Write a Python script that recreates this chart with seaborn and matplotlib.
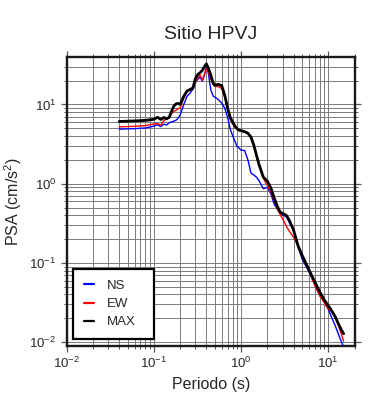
import matplotlib
matplotlib.use("Agg")
import matplotlib.pyplot as plt
import seaborn as sns
import pandas as pd
from matplotlib.ticker import LogLocator, NullFormatter

# ---- data ----
periods = [0.04, 0.06, 0.08, 0.10, 0.11, 0.12, 0.13, 0.14, 0.15, 0.16, 0.17, 0.18,
           0.19, 0.20, 0.22, 0.24, 0.26, 0.28, 0.30, 0.32, 0.34, 0.36, 0.38, 0.40,
           0.42, 0.45, 0.48, 0.50, 0.55, 0.60, 0.65, 0.70, 0.75, 0.80, 0.85, 0.90,
           0.95, 1.0, 1.1, 1.2, 1.3, 1.4, 1.5, 1.6, 1.8, 2.0, 2.2, 2.4, 2.6, 2.8,
           3.0, 3.3, 3.6, 4.0, 4.5, 5.0, 6.0, 7.0, 8.0, 9.0, 10.0, 11.0, 12.0,
           13.0, 14.0, 15.0]

ns = [4.89, 4.95, 5.05, 5.33, 5.56, 5.25, 5.65, 5.49, 5.89, 6.04, 6.16, 6.34,
      6.72, 7.33, 9.95, 12.7, 13.9, 15.6, 19.1, 20.9, 22.0, 19.7, 23.4, 30.0,
      25.5, 15.2, 12.7, 12.4, 11.5, 10.4, 8.98, 6.9, 4.89, 4.04, 3.44, 2.94,
      2.81, 2.65, 2.62, 1.98, 1.36, 1.29, 1.21, 1.10, 0.864, 0.90, 0.74, 0.55,
      0.48, 0.43, 0.40, 0.385, 0.32, 0.255, 0.16, 0.113, 0.0775, 0.054, 0.0385,
      0.033, 0.026, 0.0202, 0.0162, 0.0128, 0.0104, 0.0087]

ew = [5.22, 5.30, 5.41, 5.68, 5.73, 5.49, 6.25, 6.62, 6.72, 7.7, 8.2, 8.47,
      8.85, 8.98, 12.0, 14.3, 15.8, 16.5, 19.1, 22.0, 23.4, 20.2, 24.1, 28.5,
      25.5, 20.9, 17.8, 17.0, 16.8, 15.9, 12.4, 8.98, 6.53, 5.65, 5.18, 4.89,
      4.68, 4.61, 4.47, 4.28, 3.81, 3.03, 2.23, 1.72, 1.18, 0.94, 0.78, 0.61,
      0.48, 0.41, 0.36, 0.29, 0.25, 0.21, 0.165, 0.123, 0.081, 0.052, 0.0385,
      0.0315, 0.026, 0.0245, 0.0215, 0.0166, 0.0131, 0.0103]

mx = [6.1, 6.2, 6.3, 6.5, 6.9, 6.47, 6.85, 6.6, 6.9, 8.3, 9.6, 10.2,
      10.3, 10.0, 12.7, 14.8, 15.4, 16.0, 21.5, 24.0, 25.2, 27.1, 30.0, 32.6,
      29.0, 23.4, 18.4, 17.5, 18.0, 17.3, 13.1, 8.98, 6.9, 6.0, 5.35, 4.95,
      4.74, 4.68, 4.54, 4.34, 3.87, 3.07, 2.30, 1.77, 1.21, 1.08, 0.88, 0.66,
      0.52, 0.44, 0.42, 0.40, 0.34, 0.26, 0.165, 0.126, 0.082, 0.058, 0.043,
      0.034, 0.029, 0.0247, 0.021, 0.0173, 0.0146, 0.0128]

series_names = ["NS", "EW", "MAX"]
series_colors = ["#0000ff", "#ff0000", "#000000"]
series_widths = [1.0, 1.0, 2.0]

title = "Sitio HPVJ"
xlabel = "Periodo (s)"
ylabel = "PSA (cm/s$^2$)"

# ---- style ----
sns.set_style("ticks")
plt.rcParams["font.family"] = ["Liberation Sans", "DejaVu Sans"]
plt.rcParams["mathtext.fontset"] = "custom"
plt.rcParams["mathtext.rm"] = "Liberation Sans"
plt.rcParams["mathtext.it"] = "Liberation Sans:italic"

fig = plt.figure(figsize=(3.9, 4.0), dpi=100)
ax = fig.add_axes([0.171, 0.136, 0.739, 0.721])

for name, vals, col, lw in zip(series_names, [ns, ew, mx], series_colors, series_widths):
    df = pd.DataFrame({"Periodo": periods, "PSA": vals})
    sns.lineplot(data=df, x="Periodo", y="PSA", ax=ax, color=col, linewidth=lw,
                 label=name, sort=True, zorder=3)

ax.set_xscale("log")
ax.set_yscale("log")
ax.set_xlim(0.01, 20.2)
ax.set_ylim(0.00906, 39.5)

ax.xaxis.set_major_locator(LogLocator(base=10, numticks=10))
ax.yaxis.set_major_locator(LogLocator(base=10, numticks=10))
ax.xaxis.set_minor_locator(LogLocator(base=10, subs=range(2, 10), numticks=20))
ax.yaxis.set_minor_locator(LogLocator(base=10, subs=range(2, 10), numticks=20))
ax.xaxis.set_minor_formatter(NullFormatter())
ax.yaxis.set_minor_formatter(NullFormatter())

ax.grid(True, which="both", color="#7a7a7a", linewidth=0.7, zorder=0)
ax.set_axisbelow(True)

for sp in ax.spines.values():
    sp.set_visible(True)
    sp.set_linewidth(1.7)
    sp.set_color("#1a1a1a")

ax.tick_params(which="both", direction="out", top=True, right=True,
               color="#555555", labelsize=9.5, pad=3)
ax.tick_params(which="major", length=4.5, width=0.9)
ax.tick_params(which="minor", length=2.5, width=0.7)

ax.set_xlabel(xlabel, fontsize=11.5, labelpad=4)
ax.set_ylabel(ylabel, fontsize=11.5, labelpad=4)
ax.set_title(title, fontsize=14, pad=13)

leg = ax.legend(loc="lower left", bbox_to_anchor=(0.022, 0.023, 0.28, 0.255),
                mode="expand", borderaxespad=0, fontsize=9.5,
                handlelength=0.8, handletextpad=1.0, borderpad=0.8,
                labelspacing=0.45, fancybox=False, framealpha=1)
leg.get_frame().set_edgecolor("black")
leg.get_frame().set_linewidth(1.6)
for line in leg.get_lines():
    line.set_linewidth(1.6)

fig.savefig("out.png", dpi=100)
